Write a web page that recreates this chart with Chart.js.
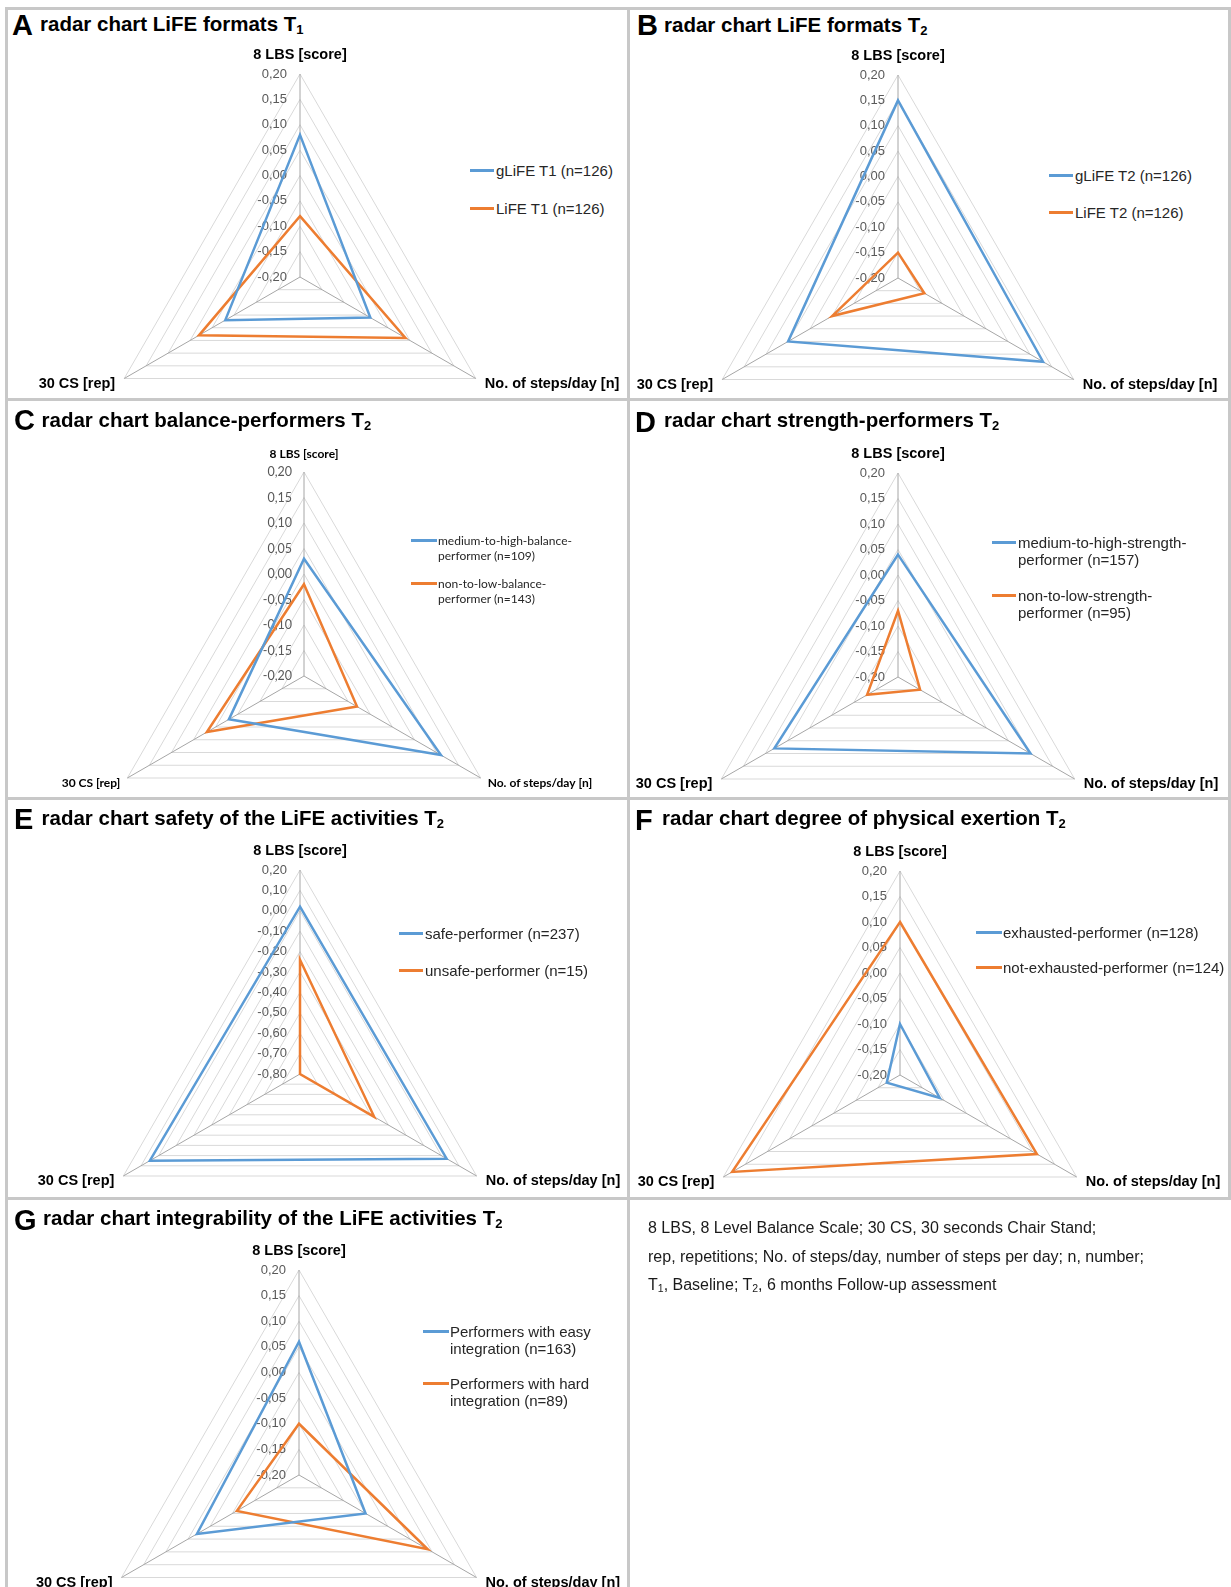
<!DOCTYPE html>
<html lang="en">
<head>
<meta charset="UTF-8">
<title>Radar charts LiFE</title>
<script src="https://cdn.jsdelivr.net/npm/chart.js@4.4.1/dist/chart.umd.min.js"></script>
<style>
  body { margin: 0; background: #fff; font-family: 'Liberation Sans', Arial, sans-serif; }
  #page { position: relative; width: 1231px; height: 1587px; overflow: hidden; background: #fff; }
  .rule { position: absolute; background: #c8c8c8; }
  canvas { position: absolute; }
  .txt { position: absolute; white-space: nowrap; line-height: 1; color: #000; }
  .letter { font-weight: bold; font-size: 29px; }
  .title { font-weight: bold; font-size: 20.5px; }
  .sub { font-size: 13px; position: relative; top: 3px; }
  .lgline { position: absolute; height: 3px; }
  .lgtext { position: absolute; white-space: nowrap; color: #262626; }
  .note { font-size: 16px; color: #1a1a1a; }
  .note .sub { font-size: 10.5px; top: 2px; }
</style>
</head>
<body>
<div id="page"></div>

<script>
// categories (the three spokes, clockwise from the top)
const axisLabels = ['8 LBS [score]', 'No. of steps/day [n]', '30 CS [rep]'];

// value axis: [min, max, step]
const rangeStd = [-0.20, 0.20, 0.05];
const rangeSafety = [-0.80, 0.20, 0.10];

// panel letters / titles / subscript
const letters = ['A', 'B', 'C', 'D', 'E', 'F', 'G'];
const titles = [
    'radar chart LiFE formats T',
    'radar chart LiFE formats T',
    'radar chart balance-performers T',
    'radar chart strength-performers T',
    'radar chart safety of the LiFE activities T',
    'radar chart degree of physical exertion T',
    'radar chart integrability of the LiFE activities T'
];
const titleSubs = ['1', '2', '2', '2', '2', '2', '2'];

// series names (blue first, orange second)
const namesA = ['gLiFE T1 (n=126)', 'LiFE T1 (n=126)'];
const namesB = ['gLiFE T2 (n=126)', 'LiFE T2 (n=126)'];
const namesC = ['medium-to-high-balance-\nperformer (n=109)', 'non-to-low-balance-\nperformer (n=143)'];
const namesD = ['medium-to-high-strength-\nperformer (n=157)', 'non-to-low-strength-\nperformer (n=95)'];
const namesE = ['safe-performer (n=237)', 'unsafe-performer (n=15)'];
const namesF = ['exhausted-performer (n=128)', 'not-exhausted-performer (n=124)'];
const namesG = ['Performers with easy\nintegration (n=163)', 'Performers with hard\nintegration (n=89)'];

// values per spoke: [8 LBS, steps/day, 30 CS]
const blueA = [0.08, -0.04, -0.03];
const orangeA = [-0.08, 0.04, 0.03];
const blueB = [0.15, 0.13, 0.05];
const orangeB = [-0.15, -0.14, -0.05];
const blueC = [0.03, 0.11, -0.03];
const orangeC = [-0.02, -0.08, 0.02];
const blueD = [0.04, 0.10, 0.08];
const orangeD = [-0.07, -0.15, -0.13];
const blueE = [0.02, 0.03, 0.05];
const orangeE = [-0.24, -0.38, -0.80];
const blueF = [-0.10, -0.11, -0.17];
const orangeF = [0.10, 0.11, 0.18];
const blueG = [0.06, -0.05, 0.03];
const orangeG = [-0.10, 0.09, -0.06];

// footnote
const noteLines = [
    '8 LBS, 8 Level Balance Scale; 30 CS, 30 seconds Chair Stand;',
    'rep, repetitions; No. of steps/day, number of steps per day; n, number;',
    'T<span class="sub">1</span>, Baseline; T<span class="sub">2</span>, 6 months Follow-up assessment'
];

const BLUE = '#5b9bd5';
const ORANGE = '#ed7d31';

// layout of each panel (page pixels)
const arial = '"Liberation Sans", Arial, sans-serif';
const lato = 'Lato, sans-serif';
const panels = [
    { names: namesA, blue: blueA, orange: orangeA, range: rangeStd, box: [8, 10, 619, 388], c: [300, 277], r: 203,
      letter: [12, 25], title: [40, 24], leg: [470, 494, 496], legY: [170, 208], lh: 17, fam: arial, legSize: 15 },
    { names: namesB, blue: blueB, orange: orangeB, range: rangeStd, box: [630, 10, 598, 388], c: [898, 278], r: 203,
      letter: [637, 25.5], title: [664, 25], leg: [1049, 1073, 1075], legY: [175, 212], lh: 17, fam: arial, legSize: 15 },
    { names: namesC, blue: blueC, orange: orangeC, range: rangeStd, box: [8, 401, 619, 396], c: [304, 676], r: 204,
      letter: [14, 420.5], title: [41.5, 419.5], leg: [411, 437, 438], legY: [540, 583], lh: 15, fam: lato, legSize: 12 },
    { names: namesD, blue: blueD, orange: orangeD, range: rangeStd, box: [630, 401, 598, 396], c: [898, 677], r: 204,
      letter: [635, 422], title: [664, 420], leg: [992, 1016, 1018], legY: [542, 595], lh: 17, fam: arial, legSize: 15 },
    { names: namesE, blue: blueE, orange: orangeE, range: rangeSafety, box: [8, 800, 619, 397], c: [300, 1074], r: 204,
      letter: [14, 819], title: [41.5, 817.5], leg: [399, 423, 425], legY: [933, 970], lh: 17, fam: arial, legSize: 15 },
    { names: namesF, blue: blueF, orange: orangeF, range: rangeStd, box: [630, 800, 598, 397], c: [900, 1075], r: 204,
      letter: [635, 820], title: [662, 818], leg: [976, 1002, 1003], legY: [932, 967], lh: 17, fam: arial, legSize: 15 },
    { names: namesG, blue: blueG, orange: orangeG, range: rangeStd, box: [8, 1201, 619, 386], c: [299, 1475], r: 205,
      letter: [14, 1220.5], title: [43, 1217.5], leg: [423, 449, 450], legY: [1331, 1383], lh: 17, fam: arial, legSize: 15 }
];

const page = document.getElementById('page');

function addDiv(cls, x, y, w, h, html) {
    const d = document.createElement('div');
    d.className = cls;
    d.style.left = x + 'px';
    d.style.top = y + 'px';
    if (w != null) d.style.width = w + 'px';
    if (h != null) d.style.height = h + 'px';
    if (html != null) d.innerHTML = html;
    page.appendChild(d);
    return d;
}

// panel frame
addDiv('rule', 5, 7, 1226, 3);
addDiv('rule', 5, 398, 1226, 3);
addDiv('rule', 5, 797, 1226, 3);
addDiv('rule', 5, 1197, 1226, 3);
addDiv('rule', 5, 7, 3, 1580);
addDiv('rule', 627, 7, 3, 1580);
addDiv('rule', 1228, 7, 3, 1193);

// tick labels and spoke names drawn the Excel way (right aligned ticks, labels beside the corners)
const excelLabels = {
    id: 'excelLabels',
    beforeDatasetsDraw(chart, args, o) {
        const s = chart.scales.r;
        const ctx = chart.ctx;
        ctx.save();
        ctx.fillStyle = '#595959';
        ctx.font = o.tickFont;
        ctx.textAlign = 'right';
        ctx.textBaseline = 'middle';
        s.ticks.forEach(t => {
            ctx.fillText(t.label, s.xCenter - o.tickGap, s.yCenter - s.getDistanceFromCenterForValue(t.value));
        });
        ctx.fillStyle = '#000';
        ctx.font = o.labelFont;
        chart.data.labels.forEach((lab, i) => {
            const p = s.getPointPosition(i, s.drawingArea);
            if (i === 0) {
                ctx.textAlign = 'center';
                ctx.fillText(lab, p.x, p.y - o.topGap);
            } else if (p.x > s.xCenter) {
                ctx.textAlign = 'left';
                ctx.fillText(lab, p.x + o.sideGap, p.y + o.sideDy);
            } else {
                ctx.textAlign = 'right';
                ctx.fillText(lab, p.x - o.sideGap, p.y + o.sideDy);
            }
        });
        ctx.restore();
    }
};

function fmt(v) {
    if (Math.abs(v) < 1e-9) v = 0;
    return v.toFixed(2).replace('.', ',');
}

panels.forEach((p, k) => {
    // title
    addDiv('txt letter', p.letter[0], p.letter[1] - 14.5, null, null, letters[k]);
    addDiv('txt title', p.title[0], p.title[1] - 10, null, null,
        titles[k] + '<span class="sub">' + titleSubs[k] + '</span>');

    // legend
    [BLUE, ORANGE].forEach((col, j) => {
        const y = p.legY[j];
        const ln = addDiv('lgline', p.leg[0], y - 1, p.leg[1] - p.leg[0], null);
        ln.style.background = col;
        const t = addDiv('lgtext', p.leg[2], y - p.lh / 2, null, null, p.names[j].replace('\n', '<br>'));
        t.style.fontFamily = p.fam;
        t.style.fontSize = p.legSize + 'px';
        t.style.lineHeight = p.lh + 'px';
    });

    // chart canvas: chart area is the square around the radar circle
    const [bx, by, bw] = p.box;
    const lcx = p.c[0] - bx, lcy = p.c[1] - by;
    const h = lcy + p.r;
    const cv = document.createElement('canvas');
    cv.width = bw; cv.height = h;
    cv.style.left = bx + 'px'; cv.style.top = by + 'px';
    cv.style.width = bw + 'px'; cv.style.height = h + 'px';
    page.appendChild(cv);

    const small = p.fam === lato;
    new Chart(cv, {
        type: 'radar',
        data: {
            labels: axisLabels,
            datasets: [
                { label: p.names[0], data: p.blue, borderColor: BLUE, backgroundColor: 'transparent', fill: false },
                { label: p.names[1], data: p.orange, borderColor: ORANGE, backgroundColor: 'transparent', fill: false }
            ]
        },
        options: {
            responsive: false,
            animation: false,
            devicePixelRatio: 1,
            layout: { padding: { left: lcx - p.r, right: bw - lcx - p.r, top: lcy - p.r, bottom: 0 } },
            elements: {
                line: { borderWidth: 2.5, tension: 0, borderJoinStyle: 'miter' },
                point: { radius: 0, hoverRadius: 0 }
            },
            plugins: {
                legend: { display: false },
                tooltip: { enabled: false },
                excelLabels: {
                    tickFont: (small ? '12.5px ' : '13px ') + p.fam,
                    labelFont: (small ? 'bold 12px ' : 'bold 14.5px ') + p.fam,
                    tickGap: small ? 12 : 13,
                    topGap: small ? 18 : 19,
                    sideGap: small ? 7 : 9,
                    sideDy: 5
                }
            },
            scales: {
                r: {
                    min: p.range[0],
                    max: p.range[1],
                    ticks: { stepSize: p.range[2], display: false, callback: fmt },
                    grid: { color: '#d9d9d9', lineWidth: 1 },
                    angleLines: { color: '#a6a6a6', lineWidth: 1 },
                    pointLabels: { display: false }
                }
            }
        },
        plugins: [excelLabels]
    });
});

// footnote panel
noteLines.forEach((s, i) => {
    addDiv('txt note', 648, [1228, 1257, 1285][i] - 8, null, null, s);
});
</script>
</body>
</html>
